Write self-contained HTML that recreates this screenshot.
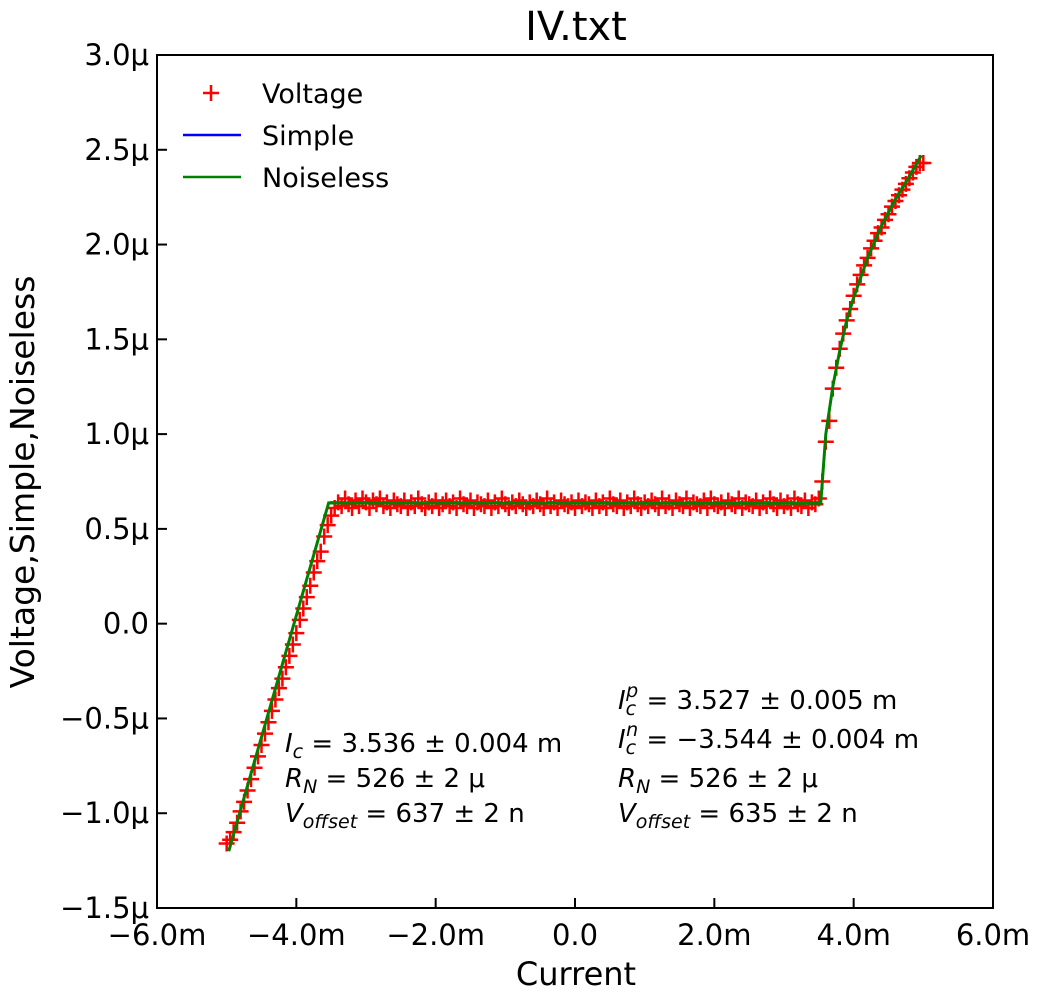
<!DOCTYPE html>
<html><head><meta charset="utf-8"><style>
body{margin:0;background:#fff}
svg text{font-family:"DejaVu Sans","Liberation Sans",sans-serif;fill:#000}
</style></head><body>
<svg id="chart" width="1040" height="1000" xmlns="http://www.w3.org/2000/svg"></svg>
<script>
const xTickVals=[-6,-4,-2,0,2,4,6];
const xTickLabels=["\u22126.0m","\u22124.0m","\u22122.0m","0.0","2.0m","4.0m","6.0m"];
const yTickVals=[-1.5,-1,-0.5,0,0.5,1,1.5,2,2.5,3];
const yTickLabels=["\u22121.5\u03bc","\u22121.0\u03bc","\u22120.5\u03bc","0.0","0.5\u03bc","1.0\u03bc","1.5\u03bc","2.0\u03bc","2.5\u03bc","3.0\u03bc"];
const lowI=[-5.00,-4.95,-4.90,-4.85,-4.80,-4.75,-4.70,-4.65,-4.60,-4.55,-4.50,-4.45,-4.40,-4.35,-4.30,-4.25,-4.20,-4.15,-4.10,-4.05,-4.00,-3.95,-3.90,-3.85,-3.80,-3.75,-3.70,-3.65,-3.60,-3.55,-3.50];
const lowV=[-1.16,-1.14,-1.10,-1.05,-0.99,-0.94,-0.88,-0.82,-0.76,-0.70,-0.64,-0.58,-0.52,-0.46,-0.40,-0.34,-0.29,-0.23,-0.17,-0.11,-0.05,0.02,0.08,0.14,0.20,0.27,0.33,0.38,0.46,0.52,0.57];
const plateauV=[0.61,0.64,0.62,0.66,0.63,0.61,0.65,0.62,0.66,0.64,0.61,0.65,0.63,0.66,0.62,0.64,0.61,0.65,0.63,0.62,0.65,0.61,0.64,0.62,0.66,0.63,0.61,0.64,0.62,0.65,0.61,0.63,0.65,0.62,0.64,0.61,0.66,0.63,0.62,0.65,0.61,0.64,0.63,0.62,0.65,0.61,0.64,0.62,0.66,0.63,0.61,0.64,0.62,0.65,0.63,0.61,0.64,0.62,0.65,0.63,0.61,0.66,0.62,0.64,0.61,0.65,0.63,0.62,0.64,0.61,0.65,0.62,0.64,0.63,0.61,0.65,0.62,0.64,0.61,0.66,0.63,0.62,0.65,0.61,0.64,0.62,0.66,0.63,0.61,0.64,0.62,0.65,0.63,0.61,0.66,0.62,0.64,0.61,0.65,0.63,0.62,0.66,0.61,0.64,0.63,0.62,0.65,0.61,0.66,0.63,0.62,0.64,0.61,0.65,0.63,0.62,0.66,0.61,0.64,0.63,0.62,0.65,0.61,0.64,0.62,0.66,0.63,0.61,0.65,0.62,0.64,0.61,0.66,0.63,0.62,0.65,0.61,0.64,0.63];
const plateauStart=-3.45, plateauStep=0.05;
const upI=[3.50,3.55,3.60,3.65,3.70,3.75,3.80,3.85,3.90,3.95,4.00,4.05,4.10,4.15,4.20,4.25,4.30,4.35,4.40,4.45,4.50,4.55,4.60,4.65,4.70,4.75,4.80,4.85,4.90,4.95,5.00];
const upV=[0.66,0.75,0.96,1.07,1.24,1.35,1.45,1.53,1.60,1.66,1.73,1.79,1.84,1.89,1.93,1.98,2.02,2.06,2.09,2.13,2.16,2.20,2.23,2.26,2.29,2.32,2.35,2.38,2.41,2.43,2.43];
const fitI=[-4.97,-3.536,3.527,3.60,3.70,3.80,3.90,4.00,4.20,4.40,4.60,4.80,4.97];
const fitV=[-1.20,0.637,0.635,1.00,1.25,1.44,1.60,1.72,1.93,2.10,2.24,2.36,2.47];

const NS="http://www.w3.org/2000/svg", svg=document.getElementById('chart');
const L=157,R=993,T=55,B=908;
const xs=v=>L+(v+6)/12*(R-L), ys=v=>B-(v+1.5)/4.5*(B-T);
function el(tag,attrs,parent,text){const e=document.createElementNS(NS,tag);for(const k in attrs)e.setAttribute(k,attrs[k]);if(text!==undefined)e.textContent=text;(parent||svg).appendChild(e);return e;}

const vI=[],vV=[];
lowI.forEach((x,i)=>{vI.push(x);vV.push(lowV[i]);});
plateauV.forEach((v,i)=>{vI.push(plateauStart+i*plateauStep);vV.push(v);});
upI.forEach((x,i)=>{vI.push(x);vV.push(upV[i]);});

const gM=el('g',{stroke:'#ff0000','stroke-width':2.5});


vI.forEach((x,i)=>{const cx=xs(x),cy=ys(vV[i]);
 const p=el('path',{d:`M${cx-8},${cy}H${cx+8}M${cx},${cy-8}V${cy+8}`},gM);
 
 });

const pts=fitI.map((x,i)=>xs(x)+','+ys(fitV[i])).join(' ');
const simple=el('polyline',{points:pts,fill:'none',stroke:'#0000ff','stroke-width':2});


const noise=el('polyline',{points:pts,fill:'none',stroke:'#008000','stroke-width':3});



const frame=el('rect',{x:L,y:T,width:R-L,height:B-T,fill:'none',stroke:'#000','stroke-width':2});



xTickVals.forEach((v,i)=>{const x=xs(v);
 const t=el('line',{x1:x,x2:x,y1:B,y2:B-10,stroke:'#000','stroke-width':2});
 
 
 const l=el('text',{x:x,y:B+37,'font-size':29,'text-anchor':'middle'},svg,xTickLabels[i]);
 
 });
yTickVals.forEach((v,i)=>{const y=ys(v);
 const t=el('line',{x1:L,x2:L+10,y1:y,y2:y,stroke:'#000','stroke-width':2});
 
 
 const l=el('text',{x:L-8,y:y+10,'font-size':29,'text-anchor':'end'},svg,yTickLabels[i]);
 
 });
</script>
<svg width="1040" height="1000" style="position:absolute;left:0;top:0" xmlns="http://www.w3.org/2000/svg">
<text x="576" y="40" font-size="40" text-anchor="middle">IV.txt</text>
<text x="576" y="985" font-size="32" text-anchor="middle">Current</text>
<text transform="translate(34,482) rotate(-90)" font-size="33" text-anchor="middle">Voltage,Simple,Noiseless</text>
<g>
<path d="M203,93H219M211,85V101" stroke="#f00" stroke-width="2.5"/>
<text x="262" y="103" font-size="27">Voltage</text>
<line x1="183" x2="241" y1="135" y2="135" stroke="#00f" stroke-width="2.5"/>
<text x="262" y="145" font-size="27">Simple</text>
<line x1="183" x2="241" y1="177" y2="177" stroke="#008000" stroke-width="2.5"/>
<text x="262" y="187" font-size="27">Noiseless</text>
</g>
<g font-size="26">
<text x="285" y="752"><tspan font-style="italic">I</tspan><tspan font-size="19" font-style="italic" dy="6">c</tspan><tspan dy="-6"> = 3.536 ± 0.004 m</tspan></text>
<text x="285" y="787"><tspan font-style="italic">R</tspan><tspan font-size="19" font-style="italic" dy="6">N</tspan><tspan dy="-6"> = 526 ± 2 μ</tspan></text>
<text x="285" y="822"><tspan font-style="italic">V</tspan><tspan font-size="19" font-style="italic" dy="6">offset</tspan><tspan dy="-6"> = 637 ± 2 n</tspan></text>
</g>
<g font-size="26">
<text x="618" y="709"><tspan font-style="italic">I</tspan><tspan font-size="19" font-style="italic" dy="6">c</tspan><tspan font-size="19" font-style="italic" dx="-10" dy="-18">p</tspan><tspan dy="12"> = 3.527 ± 0.005 m</tspan></text>
<text x="618" y="748"><tspan font-style="italic">I</tspan><tspan font-size="19" font-style="italic" dy="6">c</tspan><tspan font-size="19" font-style="italic" dx="-10" dy="-18">n</tspan><tspan dy="12"> = −3.544 ± 0.004 m</tspan></text>
<text x="618" y="787"><tspan font-style="italic">R</tspan><tspan font-size="19" font-style="italic" dy="6">N</tspan><tspan dy="-6"> = 526 ± 2 μ</tspan></text>
<text x="618" y="822"><tspan font-style="italic">V</tspan><tspan font-size="19" font-style="italic" dy="6">offset</tspan><tspan dy="-6"> = 635 ± 2 n</tspan></text>
</g>
</svg>
</body></html>
